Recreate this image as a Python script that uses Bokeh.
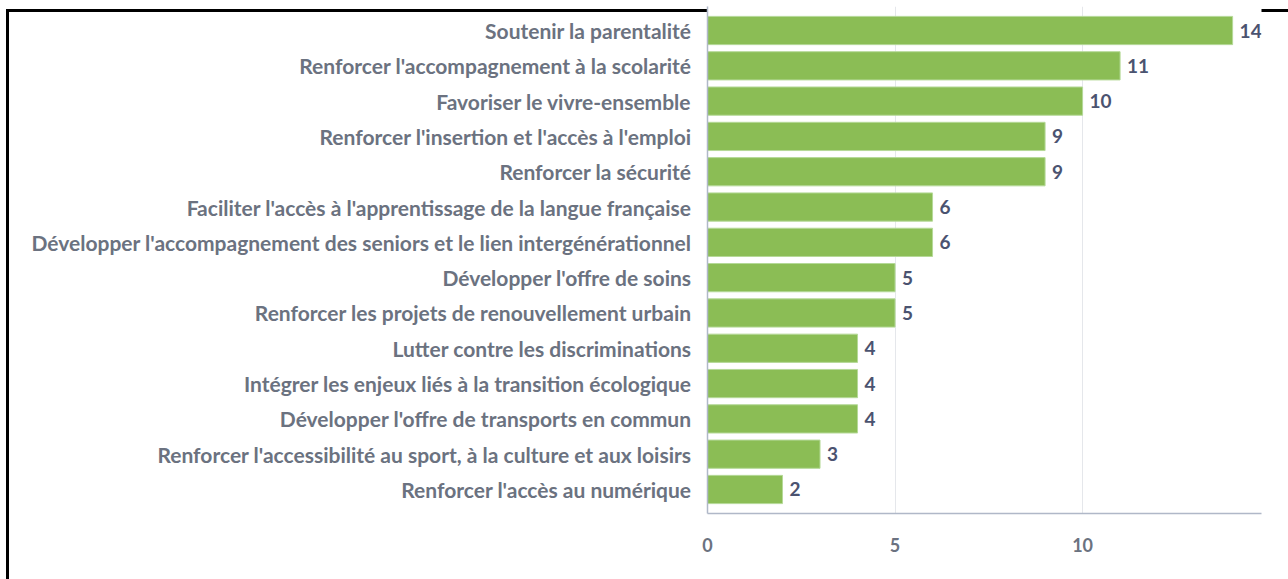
from bokeh.plotting import figure
from bokeh.models import ColumnDataSource, FactorRange, FixedTicker, LabelSet
from bokeh.core.properties import value
from bokeh.embed import file_html
from bokeh.resources import INLINE

categories = [
    "Soutenir la parentalité",
    "Renforcer l'accompagnement à la scolarité",
    "Favoriser le vivre-ensemble",
    "Renforcer l'insertion et l'accès à l'emploi",
    "Renforcer la sécurité",
    "Faciliter l'accès à l'apprentissage de la langue française",
    "Développer l'accompagnement des seniors et le lien intergénérationnel",
    "Développer l'offre de soins",
    "Renforcer les projets de renouvellement urbain",
    "Lutter contre les discriminations",
    "Intégrer les enjeux liés à la transition écologique",
    "Développer l'offre de transports en commun",
    "Renforcer l'accessibilité au sport, à la culture et aux loisirs",
    "Renforcer l'accès au numérique",
]
values = [14, 11, 10, 9, 9, 6, 6, 5, 5, 4, 4, 4, 3, 2]
x_ticks = [0, 5, 10]

FONT = "Lato"
LABEL_COLOR = "#6b7280"
VALUE_COLOR = "#4b5370"
AXIS_COLOR = "#b0b8c8"

src = ColumnDataSource(dict(cat=categories, val=values, txt=[str(v) for v in values]))

y_range = FactorRange(factors=list(reversed(categories)),
                      range_padding=0.18, range_padding_units="absolute")

p = figure(width=1282, height=573, y_range=y_range, x_range=(0, 14.77),
           output_backend="svg", toolbar_location=None, title=None,
           min_border_left=701, min_border_right=27, min_border_top=0, min_border_bottom=66)
p.border_fill_color = None
p.styles = {
    "margin-left": "6px", "margin-top": "6px",
    "background": ("linear-gradient(#000, #000) no-repeat 0px 3px / 100% 3px, "
                   "linear-gradient(#000, #000) no-repeat 0px 3px / 3px 100%, #ffffff"),
}

p.hbar(y="cat", right="val", height=0.8, source=src,
       fill_color="#8bbd55", line_color="#b5d998", line_width=1)

labels = LabelSet(x="val", y="cat", text="txt", source=src, x_offset=7,
                  text_font=value(FONT), text_font_style="bold", text_font_size="19px",
                  text_color=VALUE_COLOR, text_baseline="middle")
p.add_layout(labels)

p.outline_line_color = None
p.ygrid.grid_line_color = None
p.xgrid.grid_line_color = "#e5e7eb"
p.xgrid.ticker = FixedTicker(ticks=x_ticks)

p.xaxis.ticker = FixedTicker(ticks=x_ticks)
p.xaxis.axis_line_color = AXIS_COLOR
p.xaxis.axis_line_width = 1.5
p.xaxis.major_tick_line_color = None
p.xaxis.minor_tick_line_color = None
p.xaxis.major_label_text_font = FONT
p.xaxis.major_label_text_font_style = "bold"
p.xaxis.major_label_text_font_size = "18px"
p.xaxis.major_label_text_color = LABEL_COLOR
p.xaxis.major_label_standoff = 18

p.yaxis.axis_line_color = AXIS_COLOR
p.yaxis.axis_line_width = 1.5
p.yaxis.major_tick_line_color = None
p.yaxis.minor_tick_line_color = None
p.yaxis.major_label_text_font = FONT
p.yaxis.major_label_text_font_style = "bold"
p.yaxis.major_label_text_font_size = "21px"
p.yaxis.major_label_text_color = LABEL_COLOR
p.yaxis.major_label_standoff = 10

open("out.html", "w").write(file_html(p, INLINE))
